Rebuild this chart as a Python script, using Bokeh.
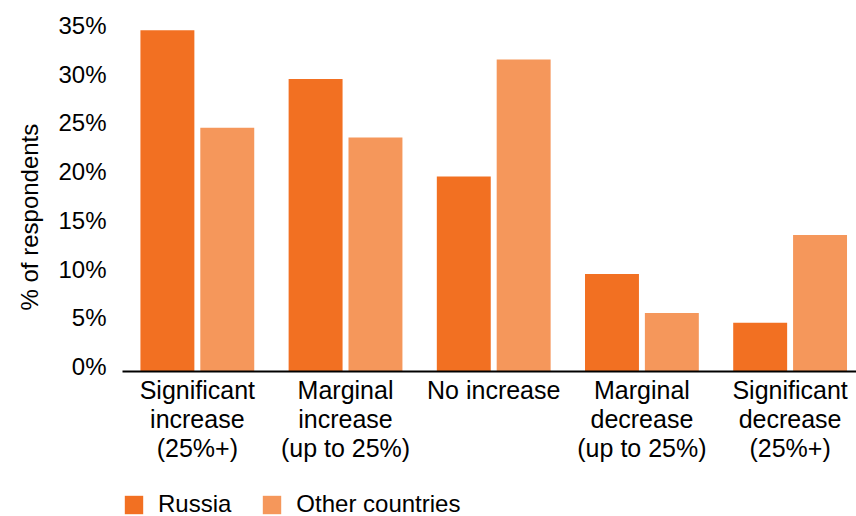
import numpy as np
from bokeh.plotting import figure
from bokeh.layouts import column
from bokeh.models import (ColumnDataSource, Range1d, FixedTicker, Legend,
                          LegendItem, Title)
from bokeh.transform import dodge
from bokeh.embed import file_html
from bokeh.resources import INLINE

# Change categories and shares of respondents (%)
categories = [
    "Significant\nincrease\n(25%+)",
    "Marginal\nincrease\n(up to 25%)",
    "No increase",
    "Marginal\ndecrease\n(up to 25%)",
    "Significant\ndecrease\n(25%+)",
]
series_names = ["Russia", "Other countries"]
russia = [35, 30, 20, 10, 5]
other_countries = [25, 24, 32, 6, 14]
y_ticks = [0, 5, 10, 15, 20, 25, 30, 35]

FONT = "Liberation Sans"
RUSSIA_COLOR = "#F27022"
OTHER_COLOR = "#F5975B"

pos = np.arange(len(categories))
source = ColumnDataSource(data=dict(x=pos, russia=russia, other=other_countries))

p = figure(
    width=856, height=480,
    x_range=Range1d(-0.505, 4.448), y_range=Range1d(0, 36),
    output_backend="svg", toolbar_location=None,
    min_border_left=121, min_border_right=0,
    min_border_top=20, min_border_bottom=109,
)
p.outline_line_color = None
p.xgrid.visible = False
p.ygrid.visible = False

p.vbar(x=dodge("x", -0.202, range=p.x_range), top="russia", width=0.364,
       source=source, fill_color=RUSSIA_COLOR, line_color=None)
p.vbar(x=dodge("x", 0.202, range=p.x_range), top="other", width=0.364,
       source=source, fill_color=OTHER_COLOR, line_color=None)

# x axis: group labels under each pair of bars
xa = p.xaxis[0]
xa.ticker = FixedTicker(ticks=list(pos))
xa.major_label_overrides = {int(i): c for i, c in zip(pos, categories)}
xa.major_tick_line_color = None
xa.minor_tick_line_color = None
xa.axis_line_color = "black"
xa.axis_line_width = 2
xa.major_label_text_font = FONT
xa.major_label_text_font_size = "25px"
xa.major_label_text_line_height = 1.05
xa.major_label_text_color = "black"
xa.major_label_standoff = -2

# y axis: percentage labels, no axis line
ya = p.yaxis[0]
tick_pos = [t + 0.5 for t in y_ticks]
ya.ticker = FixedTicker(ticks=tick_pos)
ya.major_label_overrides = {tp: f"{t}%" for tp, t in zip(tick_pos, y_ticks)}
ya.axis_line_color = None
ya.major_tick_line_color = None
ya.minor_tick_line_color = None
ya.major_label_text_font = FONT
ya.major_label_text_font_size = "24px"
ya.major_label_text_color = "black"
ya.major_label_standoff = 10

# vertical axis title, set a little below the middle of the plot area
p.add_layout(Title(text="% of respondents", align="left", offset=61,
                   standoff=26, text_font=FONT, text_font_size="24px",
                   text_font_style="normal", text_color="black"), "left")

# series key in its own strip under the chart
key = figure(
    width=856, height=36, x_range=Range1d(0, 1), y_range=Range1d(0, 1),
    output_backend="svg", toolbar_location=None,
    x_axis_location=None, y_axis_location=None,
    min_border_left=0, min_border_right=0, min_border_top=0, min_border_bottom=0,
)
key.outline_line_color = None
key.xgrid.visible = False
key.ygrid.visible = False
# zero-height swatch sources, kept outside the strip's range
k1 = key.vbar(x=[-1], top=[0], width=0.1, fill_color=RUSSIA_COLOR, line_color=None)
k2 = key.vbar(x=[-1], top=[0], width=0.1, fill_color=OTHER_COLOR, line_color=None)

legend = Legend(
    items=[LegendItem(label=series_names[0], renderers=[k1]),
           LegendItem(label=series_names[1], renderers=[k2])],
    orientation="horizontal", location=(0, -2),
    glyph_width=23, glyph_height=23, label_standoff=13, spacing=29,
    padding=0, margin=0,
    label_text_font=FONT, label_text_font_size="24px", label_text_color="black",
    border_line_color=None, background_fill_alpha=0,
)
key.add_layout(legend, "center")

layout = column(p, key, spacing=0)
open("out.html", "w").write(file_html(layout, INLINE))
